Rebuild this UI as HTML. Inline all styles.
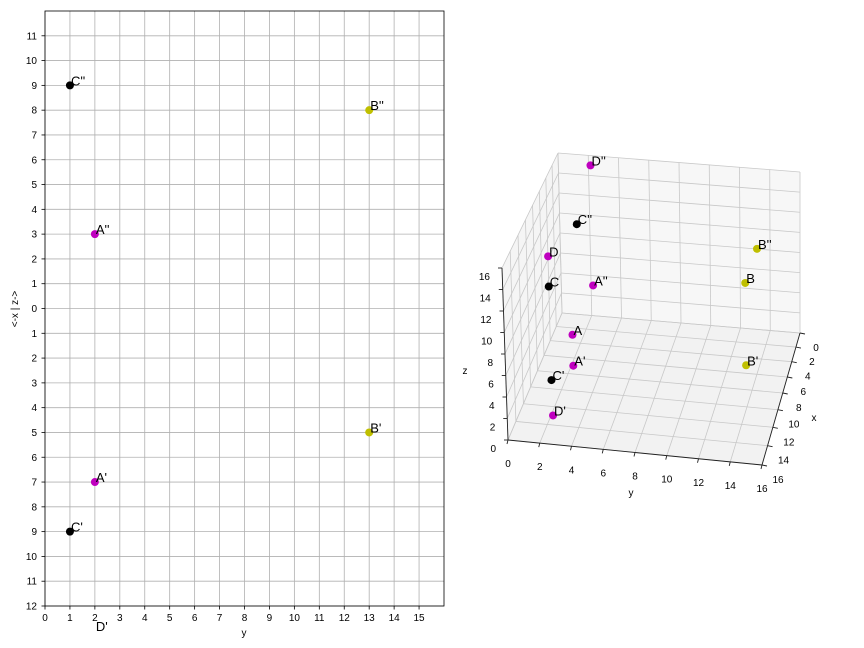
<!DOCTYPE html>
<html><head><meta charset="utf-8"><style>
body{margin:0;background:#fff;}
svg{display:block;font-family:"Liberation Sans",sans-serif;}
</style></head><body>
<svg id="chart" width="864" height="648" viewBox="0 0 864 648">
<defs><clipPath id="clipL"><rect x="45" y="11" width="399" height="595"/></clipPath></defs>
<g id="left"></g>
<g id="right"></g>
</svg>
<script>
const pointNames = ["A","B","C","D"];
const xVals = [7,5,9,13];
const yVals = [2,13,1,2];
const zVals = [3,8,9,15];
const pointColors = ["#bf00bf","#bfbf00","#000000","#bf00bf"];
const leftXTicks = [0,1,2,3,4,5,6,7,8,9,10,11,12,13,14,15];
const leftYTicks = [-12,-11,-10,-9,-8,-7,-6,-5,-4,-3,-2,-1,0,1,2,3,4,5,6,7,8,9,10,11];
const ticks3d = [0,2,4,6,8,10,12,14,16];

const NS="http://www.w3.org/2000/svg";
function mk(tag,attrs,parent,text){const e=document.createElementNS(NS,tag);for(const k in attrs)e.setAttribute(k,attrs[k]);if(text!==undefined)e.textContent=text;parent.appendChild(e);return e;}

// ---------- left chart ----------
const L=document.getElementById('left');
const lx=v=>45+v*(399/16);
const ly=v=>11+(12-v)*(595/24);
let gg=mk('g',{},L);


leftXTicks.forEach(t=>{mk('line',{x1:lx(t),x2:lx(t),y1:11,y2:606,stroke:'#b0b0b0','stroke-width':0.8},gg);});
leftYTicks.forEach(t=>{mk('line',{x1:45,x2:444,y1:ly(t),y2:ly(t),stroke:'#b0b0b0','stroke-width':0.8},gg);});
let fr=mk('rect',{x:45,y:11,width:399,height:595,fill:'none',stroke:'#000','stroke-width':0.8},L);


leftXTicks.forEach(t=>{
  mk('line',{x1:lx(t),x2:lx(t),y1:606,y2:609.5,stroke:'#000','stroke-width':0.8},L);
  const tx=mk('text',{x:lx(t),y:621,'font-size':10,'text-anchor':'middle'},L,String(t));
  
  
});
leftYTicks.forEach(t=>{
  mk('line',{x1:41.5,x2:45,y1:ly(t),y2:ly(t),stroke:'#000','stroke-width':0.8},L);
  const tx=mk('text',{x:37,y:ly(t)+3.5,'font-size':10,'text-anchor':'end'},L,String(Math.abs(t)));
  
  
});
let xt=mk('text',{x:244,y:636,'font-size':10,'text-anchor':'middle'},L,'y');


let yt=mk('text',{x:18,y:309,'font-size':10,'text-anchor':'middle',transform:'rotate(-90 18 309)'},L,'<-x | z->');


const clipG=mk('g',{'clip-path':'url(#clipL)'},L);
pointNames.forEach((n,i)=>{
  [[zVals[i],"''"],[-xVals[i],"'"]].forEach(([v,s])=>{
    const c=mk('circle',{cx:lx(yVals[i]),cy:ly(v),r:4,fill:pointColors[i]},clipG);
    
    
    const t=mk('text',{x:lx(yVals[i])+1,y:ly(v)+0,'font-size':13},L,n+s);
    
    
  });
});

// ---------- 3D chart ----------
const R=document.getElementById('right');
const C={c000:[562,313],c100:[508,440],c010:[800,333],c110:[762,465],c001:[558,153],c101:[502,268],c011:[800,172],c111:[758,290]};
function P(x,y,z){let u=x/16;const v=y/16,w=z/16;
  u=u/(1.2-0.2*u);
  const bl=(a,b,c,d)=>[0,1].map(k=>(1-u)*(1-v)*a[k]+u*(1-v)*b[k]+(1-u)*v*c[k]+u*v*d[k]);
  const f=bl(C.c000,C.c100,C.c010,C.c110),t=bl(C.c001,C.c101,C.c011,C.c111);
  return [f[0]+w*(t[0]-f[0]),f[1]+w*(t[1]-f[1])];}
function poly(pts,attrs,name){const p=mk('polygon',Object.assign({points:pts.map(q=>q.join(',')).join(' ')},attrs),R);return p;}
poly([P(0,0,0),P(16,0,0),P(16,16,0),P(0,16,0)],{fill:'#f2f2f2'},'floor-pane');
poly([P(0,0,0),P(0,16,0),P(0,16,16),P(0,0,16)],{fill:'#f7f7f7'},'back-pane');
poly([P(0,0,0),P(16,0,0),P(16,0,16),P(0,0,16)],{fill:'#f5f5f5'},'side-pane');
function ln(a,b,st,sw,name){const l=mk('line',{x1:a[0],y1:a[1],x2:b[0],y2:b[1],stroke:st,'stroke-width':sw},R);}
ticks3d.forEach(t=>{
  ln(P(t,0,0),P(t,16,0),'#c8c8c8',0.8,'grid-line');
  ln(P(0,t,0),P(16,t,0),'#c8c8c8',0.8,'grid-line');
  ln(P(0,t,0),P(0,t,16),'#c8c8c8',0.8,'grid-line');
  ln(P(0,0,t),P(0,16,t),'#c8c8c8',0.8,'grid-line');
  ln(P(t,0,0),P(t,0,16),'#c8c8c8',0.8,'grid-line');
  ln(P(0,0,t),P(16,0,t),'#c8c8c8',0.8,'grid-line');
});
ln(P(16,0,0),P(16,16,0),'#222',0.9,'y-axis-line');
ln(P(0,16,0),P(16,16,0),'#222',0.9,'x-axis-line');
ln(P(16,0,0),P(16,0,16),'#222',0.9,'z-axis-line');
ticks3d.forEach(t=>{
  let p=P(16,t,0);ln(p,[p[0]-1,p[1]+4],'#222',0.9,'y-tick');
  let a=mk('text',{x:p[0],y:p[1]+27,'font-size':10,'text-anchor':'middle'},R,String(t));
  p=P(t,16,0);ln(p,[p[0]+5,p[1]+1],'#222',0.9,'x-tick');
  a=mk('text',{x:p[0]+16,y:p[1]+18,'font-size':10,'text-anchor':'middle'},R,String(t));
  p=P(16,0,t);ln(p,[p[0]-4,p[1]],'#222',0.9,'z-tick');
  a=mk('text',{x:p[0]-12,y:p[1]+12,'font-size':10,'text-anchor':'end'},R,String(t));
});
let at=mk('text',{x:631,y:496,'font-size':10,'text-anchor':'middle'},R,'y');
at=mk('text',{x:814,y:421,'font-size':10,'text-anchor':'middle'},R,'x');
at=mk('text',{x:465,y:374,'font-size':10,'text-anchor':'middle'},R,'z');
pointNames.forEach((n,i)=>{
  [[xVals[i],yVals[i],zVals[i],''],[xVals[i],yVals[i],0,"'"],[0,yVals[i],zVals[i],"''"]].forEach(([x,y,z,s])=>{
    const p=P(x,y,z);
    const c=mk('circle',{cx:p[0]+2,cy:p[1],r:4,fill:pointColors[i]},R);
    
    
    const t=mk('text',{x:p[0]+3,y:p[1],'font-size':13},R,n+s);
    
    
  });
});
</script>
</body></html>
